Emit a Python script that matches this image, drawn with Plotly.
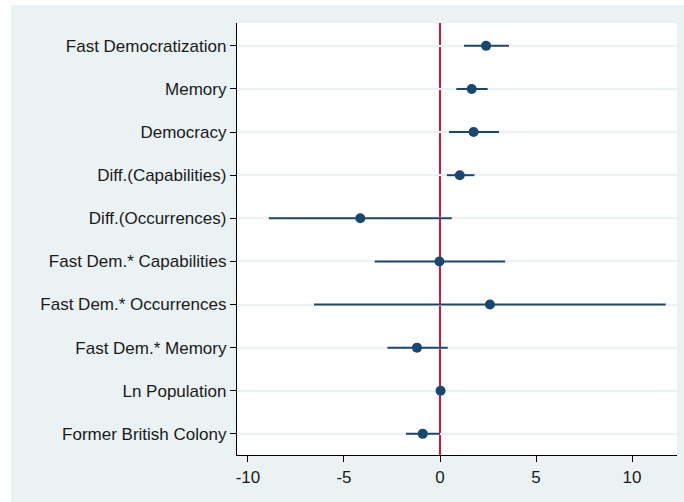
import plotly.graph_objects as go

categories = ["Fast Democratization", "Memory", "Democracy", "Diff.(Capabilities)",
              "Diff.(Occurrences)", "Fast Dem.* Capabilities", "Fast Dem.* Occurrences",
              "Fast Dem.* Memory", "Ln Population", "Former British Colony"]
coef = [2.40, 1.65, 1.75, 1.03, -4.15, -0.03, 2.60, -1.20, 0.03, -0.90]
ci_low = [1.25, 0.85, 0.47, 0.35, -8.91, -3.40, -6.56, -2.74, -0.02, -1.77]
ci_high = [3.59, 2.48, 3.07, 1.79, 0.61, 3.39, 11.75, 0.40, 0.08, 0.00]
x_ticks = [-10, -5, 0, 5, 10]

BG = "#eaf2f3"
NAVY = "#1a476f"

err_plus = [h - c for h, c in zip(ci_high, coef)]
err_minus = [c - l for c, l in zip(coef, ci_low)]

fig = go.Figure()
fig.add_trace(go.Scatter(
    x=coef, y=categories, mode="markers",
    marker=dict(color=NAVY, size=10),
    error_x=dict(type="data", symmetric=False, array=err_plus, arrayminus=err_minus,
                 color=NAVY, thickness=2, width=0),
    showlegend=False,
))

fig.add_shape(type="line", xref="x", yref="paper", x0=0, x1=0, y0=0, y1=1,
              line=dict(color="#d8143a", width=2), layer="between")
# white strips outside the background panel
fig.add_shape(type="rect", xref="paper", yref="paper", x0=-0.6, x1=(11 - 237) / 440,
              y0=-0.3, y1=1.2, fillcolor="white", line=dict(width=0), layer="above")
fig.add_shape(type="rect", xref="paper", yref="paper", x0=-0.6, x1=1.1,
              y0=(455 - 5) / 432, y1=1.2, fillcolor="white", line=dict(width=0), layer="above")

fig.update_layout(
    width=684, height=502,
    margin=dict(l=237, r=7, t=23, b=47),
    paper_bgcolor=BG, plot_bgcolor="white",
    font=dict(family="Liberation Sans, Arial, sans-serif", size=17, color="#1a1a1a"),
    xaxis=dict(range=[-10.57, 12.34], tickvals=x_ticks, ticktext=[str(v) for v in x_ticks],
               showgrid=False, zeroline=False, showline=True, linecolor="black", linewidth=1.3,
               ticks="outside", ticklen=6, tickcolor="black", tickwidth=1),
    yaxis=dict(categoryorder="array", categoryarray=categories, autorange=False,
               range=[9.49, -0.53], showgrid=True, gridcolor=BG, gridwidth=2,
               zeroline=False, showline=True, linecolor="black", linewidth=1.3,
               ticks="outside", ticklen=6, tickcolor="black", tickwidth=1, ticklabelstandoff=0),
)

fig.write_html("out.html", config={"displayModeBar": False},
               post_script="document.body.style.margin='0';")
